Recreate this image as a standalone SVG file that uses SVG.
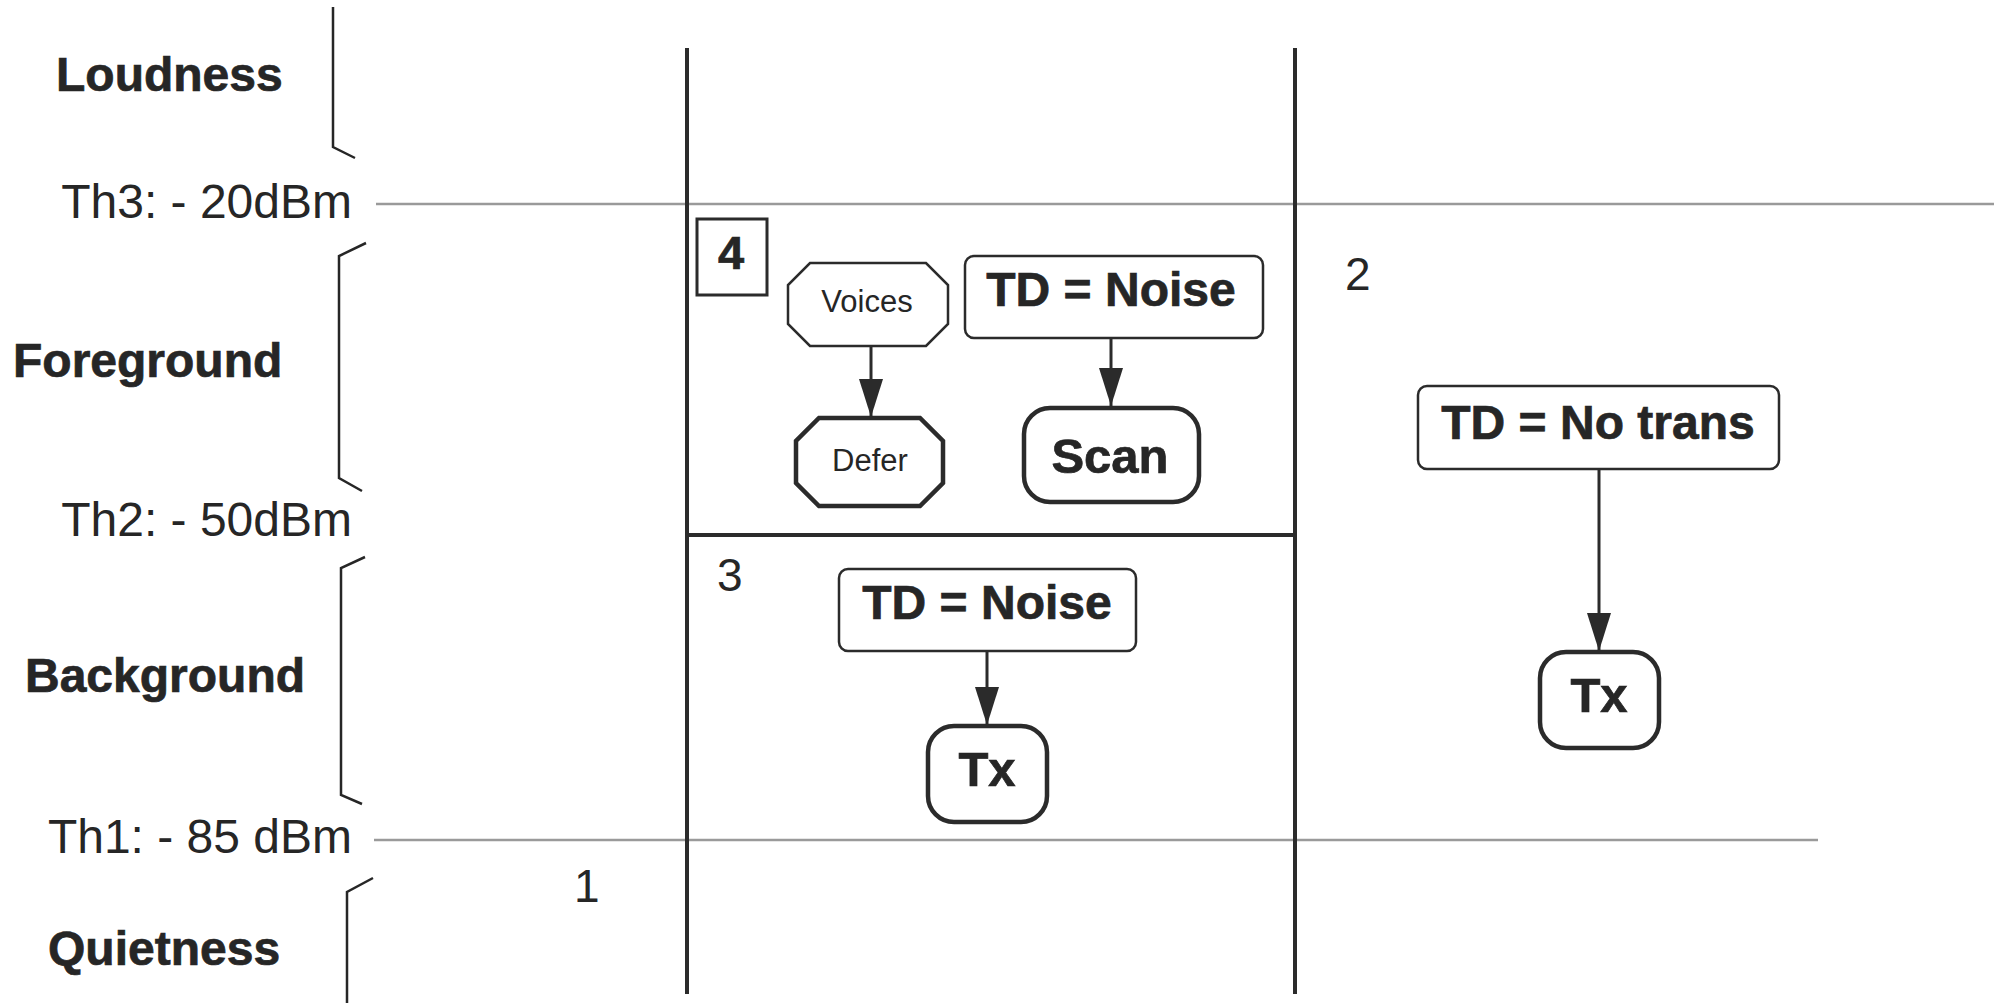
<svg xmlns="http://www.w3.org/2000/svg" width="1994" height="1003" viewBox="0 0 1994 1003">
<style>
  .bold { font-family: "Liberation Sans", Arial, sans-serif; font-weight: bold; fill: #262626; stroke: #262626; stroke-width: 0.7; }
  .reg { font-family: "Liberation Sans", Arial, sans-serif; font-weight: normal; fill: #262626; }
  .mid { text-anchor: middle; }
  .end { text-anchor: end; }
  .thr { stroke: #9a9a9a; stroke-width: 2.5; fill: none; }
  .frame { stroke: #2b2b2b; stroke-width: 4; fill: none; }
  .brk { stroke: #262626; stroke-width: 2.5; fill: none; }
  .box { fill: #fff; stroke: #2b2b2b; stroke-width: 2.5; }
  .thick { fill: #fff; stroke: #2b2b2b; stroke-width: 4.5; }
  .conn { stroke: #2b2b2b; stroke-width: 3; fill: none; marker-end: url(#arr); }
</style>
<defs>
  <marker id="arr" markerUnits="userSpaceOnUse" markerWidth="40" markerHeight="26" refX="38" refY="12" orient="auto">
    <path d="M0,0 L38,12 L0,24 z" fill="#2b2b2b"/>
  </marker>
</defs>
<rect width="1994" height="1003" fill="#fff"/>

<g id="thresholds">
  <line class="thr" x1="376" y1="204" x2="1994" y2="204"/>
  <line class="thr" x1="374" y1="840" x2="1818" y2="840"/>
</g>

<g id="frame">
  <line class="frame" x1="687" y1="48" x2="687" y2="994"/>
  <line class="frame" x1="1295" y1="48" x2="1295" y2="994"/>
  <line class="frame" x1="687" y1="535" x2="1295" y2="535"/>
</g>

<g id="labels">
  <text class="bold" x="56" y="91" font-size="48">Loudness</text>
  <text class="reg end" x="352" y="218" font-size="48">Th3: - 20dBm</text>
  <text class="bold" x="13" y="377" font-size="48">Foreground</text>
  <text class="reg end" x="352" y="536" font-size="48">Th2: - 50dBm</text>
  <text class="bold" x="25" y="692" font-size="48">Background</text>
  <text class="reg end" x="352" y="853" font-size="48">Th1: - 85 dBm</text>
  <text class="bold" x="48" y="965" font-size="48">Quietness</text>
  <path class="brk" d="M333,7 L333,147 L355,158"/>
  <path class="brk" d="M366,243 L339,256 L339,478 L362,491"/>
  <path class="brk" d="M365,557 L341,568 L341,795 L362,804"/>
  <path class="brk" d="M373,878 L347,892 L347,1003"/>
  <text class="reg" x="574" y="902" font-size="46">1</text>
  <text class="reg" x="1345" y="290" font-size="46">2</text>
  <text class="reg" x="717" y="591" font-size="46">3</text>
</g>

<g id="region4">
  <rect x="697" y="219" width="70" height="76" fill="#fff" stroke="#2b2b2b" stroke-width="3"/>
  <text class="bold mid" x="731" y="269" font-size="47">4</text>
</g>

<g id="voices">
  <polygon class="box" points="810,263 926,263 948,285 948,324 926,346 810,346 788,324 788,285"/>
  <text class="reg mid" x="867" y="312" font-size="31">Voices</text>
</g>

<g id="defer">
  <polygon class="thick" points="819,418 920,418 943,441 943,483 920,506 819,506 796,483 796,441"/>
  <text class="reg mid" x="870" y="471" font-size="31">Defer</text>
</g>

<g id="td-noise-fg">
  <rect class="box" x="965" y="256" width="298" height="82" rx="9"/>
  <text class="bold mid" x="1111" y="306" font-size="48">TD = Noise</text>
</g>

<g id="scan">
  <rect class="thick" x="1024" y="408" width="175" height="94" rx="26"/>
  <text class="bold mid" x="1110" y="473" font-size="49">Scan</text>
</g>

<g id="td-noise-bg">
  <rect class="box" x="839" y="569" width="297" height="82" rx="9"/>
  <text class="bold mid" x="987" y="619" font-size="48">TD = Noise</text>
</g>

<g id="tx-bg">
  <rect class="thick" x="928" y="726" width="119" height="96" rx="26"/>
  <text class="bold mid" x="987" y="786" font-size="49">Tx</text>
</g>

<g id="td-notrans">
  <rect class="box" x="1418" y="386" width="361" height="83" rx="9"/>
  <text class="bold mid" x="1598" y="439" font-size="48">TD = No trans</text>
</g>

<g id="tx-right">
  <rect class="thick" x="1540" y="652" width="119" height="96" rx="26"/>
  <text class="bold mid" x="1599" y="712" font-size="49">Tx</text>
</g>

<g id="connectors">
  <line class="conn" x1="871" y1="347" x2="871" y2="417"/>
  <line class="conn" x1="1111" y1="339" x2="1111" y2="406"/>
  <line class="conn" x1="987" y1="652" x2="987" y2="725"/>
  <line class="conn" x1="1599" y1="470" x2="1599" y2="651"/>
</g>
</svg>
